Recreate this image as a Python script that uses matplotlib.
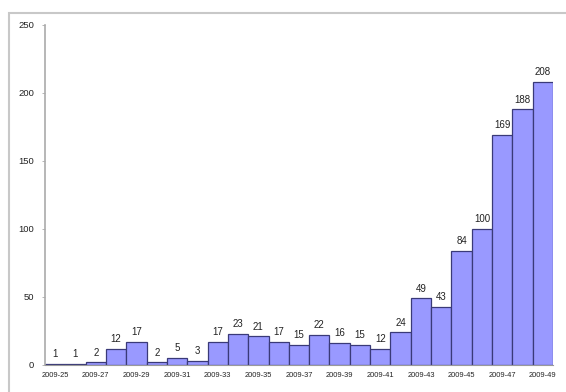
import matplotlib
matplotlib.use("Agg")
import matplotlib.pyplot as plt
from matplotlib.patches import Rectangle

plt.rcParams["font.family"] = ["Liberation Sans", "DejaVu Sans"]

# weekly counts, 2009-25 .. 2009-49
weeks = ["2009-%d" % w for w in range(25, 50)]
counts = [1, 1, 2, 12, 17, 2, 5, 3, 17, 23, 21, 17, 15, 22, 16, 15, 12, 24,
          49, 43, 84, 100, 169, 188, 208]
yticks = [0, 50, 100, 150, 200, 250]

fig = plt.figure(figsize=(5.66, 3.92), dpi=100)
# outer chart border (cut off at right/bottom like the screenshot)
fig.patches.append(Rectangle((9/566, -0.05), 1.2, 1 - 13/392 + 0.05,
                             transform=fig.transFigure, fill=False,
                             edgecolor="#c8c8c8", linewidth=1.5))

ax = fig.add_axes([45/566, 1 - 365/392, (553 - 45)/566, (365 - 25)/392])
x = list(range(len(weeks)))
ax.bar(x, counts, width=1.0, color="#9999ff", edgecolor="#3a3a78", linewidth=0.9)

for xi, c in zip(x, counts):
    ax.text(xi, c + 3.5, str(c), ha="center", va="bottom", fontsize=7, color="#222222")

ax.set_xlim(-0.5, len(weeks) - 0.5)
ax.set_ylim(0, 250)
ax.set_yticks(yticks)
ax.set_yticklabels([str(v) for v in yticks])
ax.set_xticks(x[::2])
ax.set_xticklabels(weeks[::2])
ax.tick_params(axis="y", labelsize=6.8, colors="#aaaaaa", labelcolor="#222222",
               length=2, width=0.6, pad=6)
ax.tick_params(axis="x", labelsize=5.4, labelcolor="#222222", length=0, pad=5)

for s in ["top", "right"]:
    ax.spines[s].set_visible(False)
ax.spines["left"].set_color("#aaaaaa")
ax.spines["bottom"].set_color("#999999")
ax.spines["left"].set_linewidth(1.2)

fig.savefig("out.png", dpi=100)
